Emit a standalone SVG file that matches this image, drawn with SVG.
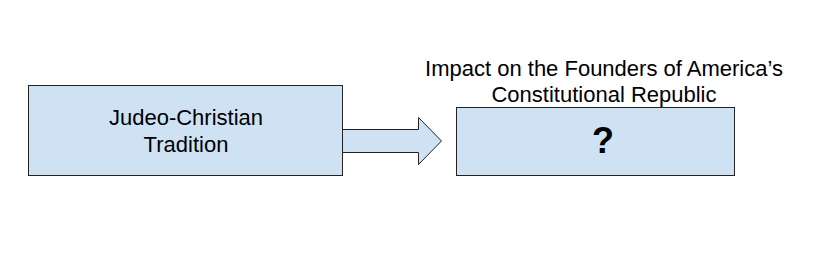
<svg xmlns="http://www.w3.org/2000/svg" width="820" height="268" viewBox="0 0 820 268">
<style>
.box{fill:#cfe2f3;stroke:#222;stroke-width:1}
.t{font-family:"Liberation Sans",Arial,sans-serif;font-size:22px;fill:#000;text-anchor:middle}
.q{font-family:"Liberation Sans",Arial,sans-serif;font-size:36px;font-weight:bold;fill:#000;text-anchor:middle}
</style>
<rect width="820" height="268" fill="#fff"/>
<g id="node-judeo">
<rect class="box" x="28.5" y="85.5" width="314" height="90"/>
<text class="t" x="186" y="125">Judeo-Christian</text>
<text class="t" x="186" y="152">Tradition</text>
</g>
<g id="connectors">
<polygon class="box" points="342.5,129.5 418.5,129.5 418.5,117.5 441.5,141 418.5,164.5 418.5,152.5 342.5,152.5"/>
</g>
<g id="node-impact">
<text class="t" x="604" y="76">Impact on the Founders of America’s</text>
<text class="t" x="604" y="102">Constitutional Republic</text>
<rect class="box" x="456.5" y="107.5" width="278" height="68"/>
<text class="q" x="603" y="153">?</text>
</g>
</svg>
